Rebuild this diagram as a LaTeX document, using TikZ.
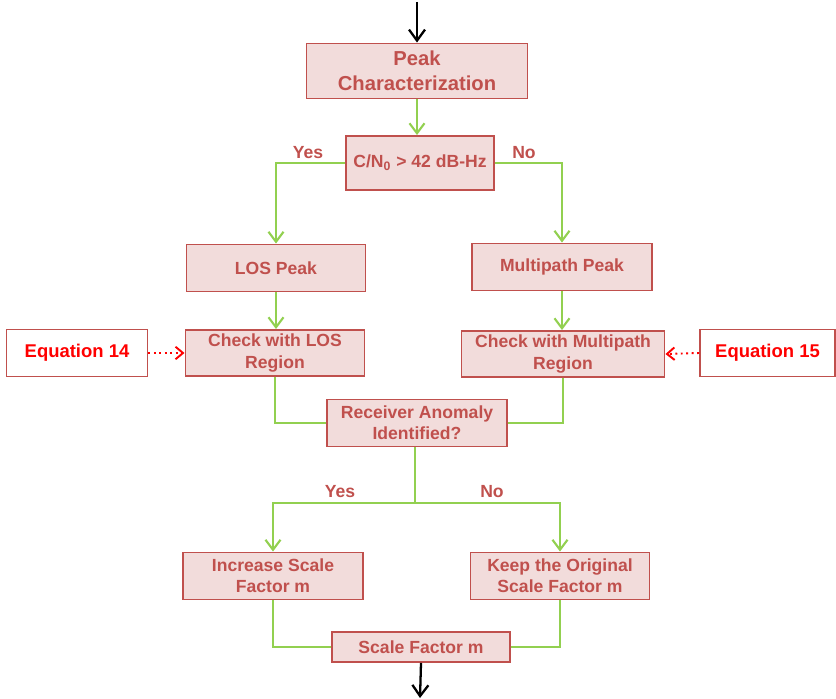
\documentclass[tikz,border=0pt]{standalone}
\usepackage{fontspec}
\setmainfont{Liberation Sans}
\usetikzlibrary{arrows.meta}

\definecolor{boxfill}{HTML}{F2DCDB}
\definecolor{boxline}{HTML}{C0504D}
\definecolor{boxtext}{HTML}{C0504D}
\definecolor{flowgreen}{HTML}{92D050}

\begin{document}
\begin{tikzpicture}[
    stepbox/.style={draw=boxline, line width=1.1pt, fill=boxfill, text=boxtext,
        font=\bfseries\fontsize{10}{12}\selectfont, align=center, inner sep=0pt},
    eqbox/.style={draw=boxline, line width=1.1pt, fill=white, text=red,
        font=\bfseries\fontsize{10.5}{12}\selectfont, inner sep=0pt},
    flow/.style={draw=flowgreen, line width=1.2pt},
    flowarrow/.style={flow, -{Straight Barb[length=2mm,width=3mm]}},
    inarrow/.style={black, line width=1.3pt, -{Straight Barb[length=2.2mm,width=3.2mm]}},
    eqarrow/.style={red, line width=1.1pt, dotted, -{Straight Barb[length=1.5mm,width=2.5mm]}},
    answer/.style={text=boxtext, font=\bfseries\fontsize{10}{12}\selectfont}
]
        \useasboundingbox (0,0) rectangle (16.72,13.96);

        % boxes
        \node[stepbox, minimum width=4.42cm, minimum height=1.1cm,
            font=\bfseries\fontsize{11.5}{14}\selectfont] (peak) at (8.34, 12.54) {Peak\\Characterization};
        \node[stepbox, minimum width=2.96cm, minimum height=1.08cm] (cn) at (8.40, 10.70) {C/N\textsubscript{0} > 42 dB-Hz};

        \node[stepbox, minimum width=3.58cm, minimum height=0.94cm] (los) at (5.52, 8.60) {LOS Peak};
        \node[stepbox, minimum width=3.6cm, minimum height=0.94cm] (mp) at (11.24, 8.62) {Multipath Peak};

        \node[stepbox, minimum width=3.58cm, minimum height=0.92cm] (chklos) at (5.50, 6.90) {Check with LOS\\Region};
        \node[stepbox, minimum width=4.06cm, minimum height=0.92cm] (chkmp) at (11.26, 6.88) {Check with Multipath\\Region};

        \node[eqbox, minimum width=2.82cm, minimum height=0.94cm] (eq14) at (1.54, 6.90) {Equation 14};
        \node[eqbox, minimum width=2.70cm, minimum height=0.94cm] (eq15) at (15.35, 6.90) {Equation 15};

        \node[stepbox, minimum width=3.6cm, minimum height=0.94cm] (anom) at (8.34, 5.50) {Receiver Anomaly\\Identified?};

        \node[stepbox, minimum width=3.6cm, minimum height=0.94cm] (inc) at (5.46, 2.44) {Increase Scale\\Factor m};
        \node[stepbox, minimum width=3.58cm, minimum height=0.94cm] (keep) at (11.20, 2.44) {Keep the Original\\Scale Factor m};

        \node[stepbox, minimum width=3.56cm, minimum height=0.6cm] (sf) at (8.42, 1.02) {Scale Factor m};

        % in and out
        \coordinate (start) at (8.34, 13.92);
        \coordinate (finish) at (8.40, 0.0);
        \draw[inarrow] (start) -- (peak.north);
        \draw[inarrow] (sf.south) -- (finish);

        % first decision
        \draw[flowarrow] (peak.south) -- (peak.south |- cn.north);
        \draw[flowarrow] (cn.west) -| (los.north);
        \draw[flowarrow] (cn.east) -| (mp.north);
        \node[answer] (yes1) at (6.16, 10.90) {Yes};
        \node[answer] (no1) at (10.48, 10.90) {No};

        \draw[flowarrow] (los.south) -- (los.south |- chklos.north);
        \draw[flowarrow] (mp.south) -- (mp.south |- chkmp.north);

        % equations
        \draw[eqarrow] (eq14.east) -- (chklos.west);
        \draw[eqarrow] (eq15.west) -- (chkmp.east);

        % join into anomaly check
        \draw[flow] (chklos.south) |- (anom.west);
        \draw[flow] (chkmp.south) |- (anom.east);

        % second decision
        \coordinate (fork) at (8.30, 3.90);
        \draw[flow] (anom.south -| fork) -- (fork);
        \draw[flowarrow] (fork) -| (inc.north);
        \draw[flowarrow] (fork) -| (keep.north);
        \node[answer] (yes2) at (6.80, 4.12) {Yes};
        \node[answer] (no2) at (9.84, 4.12) {No};

        % join into scale factor
        \draw[flow] (inc.south) |- (sf.west);
        \draw[flow] (keep.south) |- (sf.east);

    \end{tikzpicture}
\end{document}
